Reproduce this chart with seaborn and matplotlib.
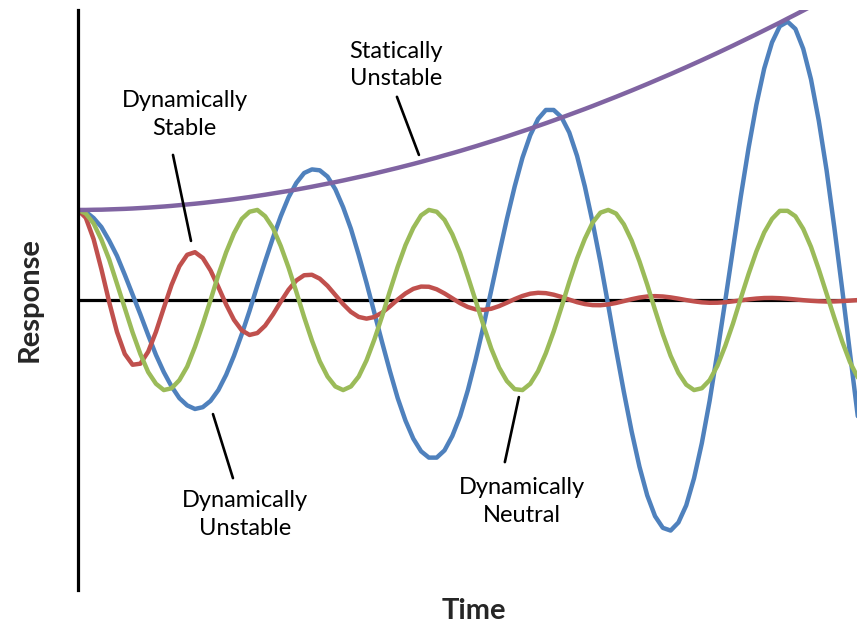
import numpy as np
import pandas as pd
import matplotlib
matplotlib.use("Agg")
import matplotlib.pyplot as plt
import seaborn as sns

#response of four aircraft motions
#time axis in arbitrary units, response relative to the trim line
time = np.linspace(0, 10, 101)

dyn_unstable = [
    1.00, 0.98, 0.91, 0.81, 0.66, 0.49, 0.28, 0.06, -0.16, -0.39,
    -0.61, -0.80, -0.96, -1.09, -1.17, -1.21, -1.19, -1.12, -1.00, -0.83,
    -0.62, -0.38, -0.12, 0.16, 0.43, 0.69, 0.93, 1.14, 1.30, 1.41,
    1.45, 1.44, 1.37, 1.23, 1.03, 0.79, 0.50, 0.19, -0.14, -0.47,
    -0.79, -1.09, -1.34, -1.54, -1.68, -1.75, -1.75, -1.67, -1.51, -1.29,
    -1.00, -0.66, -0.29, 0.11, 0.51, 0.90, 1.26, 1.58, 1.83, 2.01,
    2.11, 2.11, 2.03, 1.86, 1.60, 1.26, 0.86, 0.42, -0.06, -0.55,
    -1.02, -1.46, -1.85, -2.17, -2.40, -2.53, -2.56, -2.47, -2.28, -1.98,
    -1.59, -1.12, -0.58, -0.01, 0.57, 1.15, 1.69, 2.17, 2.57, 2.86,
    3.04, 3.09, 3.01, 2.79, 2.45, 1.99, 1.44, 0.80, 0.12, -0.59,
    -1.29]

dyn_stable = [
    1.000, 0.913, 0.676, 0.342, -0.023, -0.355, -0.599, -0.719, -0.707, -0.574,
    -0.353, -0.089, 0.168, 0.375, 0.502, 0.531, 0.467, 0.328, 0.144, -0.050,
    -0.220, -0.337, -0.388, -0.367, -0.285, -0.161, -0.019, 0.114, 0.217, 0.275,
    0.280, 0.237, 0.157, 0.056, -0.046, -0.132, -0.188, -0.207, -0.189, -0.140,
    -0.071, 0.005, 0.073, 0.124, 0.149, 0.147, 0.119, 0.073, 0.019, -0.035,
    -0.078, -0.104, -0.110, -0.097, -0.068, -0.030, 0.010, 0.045, 0.070, 0.080,
    0.076, 0.059, 0.034, 0.004, -0.024, -0.045, -0.057, -0.058, -0.049, -0.033,
    -0.012, 0.009, 0.027, 0.039, 0.043, 0.039, 0.029, 0.015, -0.001, -0.015,
    -0.026, -0.031, -0.030, -0.025, -0.015, -0.004, 0.007, 0.016, 0.022, 0.023,
    0.020, 0.014, 0.006, -0.002, -0.009, -0.014, -0.017, -0.016, -0.012, -0.007,
    -0.001]

dyn_neutral = [
    1.00, 0.96, 0.85, 0.67, 0.45, 0.18, -0.09, -0.36, -0.60, -0.80,
    -0.93, -1.00, -0.98, -0.89, -0.74, -0.52, -0.27, 0.00, 0.28, 0.53,
    0.74, 0.90, 0.98, 1.00, 0.93, 0.80, 0.60, 0.36, 0.09, -0.19,
    -0.45, -0.68, -0.85, -0.96, -1.00, -0.96, -0.85, -0.67, -0.44, -0.18,
    0.10, 0.37, 0.61, 0.80, 0.94, 1.00, 0.98, 0.89, 0.73, 0.52,
    0.26, -0.01, -0.28, -0.54, -0.75, -0.90, -0.99, -1.00, -0.93, -0.79,
    -0.59, -0.35, -0.08, 0.20, 0.46, 0.68, 0.86, 0.97, 1.00, 0.96,
    0.84, 0.66, 0.43, 0.17, -0.11, -0.38, -0.62, -0.81, -0.94, -1.00,
    -0.98, -0.89, -0.73, -0.51, -0.26, 0.02, 0.29, 0.54, 0.75, 0.90,
    0.99, 0.99, 0.93, 0.79, 0.59, 0.34, 0.07, -0.20, -0.46, -0.69,
    -0.86]

stat_unstable = [
    1.000, 1.000, 1.002, 1.003, 1.006, 1.009, 1.012, 1.016, 1.021, 1.026,
    1.032, 1.038, 1.045, 1.053, 1.061, 1.069, 1.078, 1.088, 1.098, 1.108,
    1.119, 1.131, 1.143, 1.156, 1.169, 1.183, 1.197, 1.211, 1.226, 1.242,
    1.258, 1.275, 1.292, 1.309, 1.327, 1.346, 1.365, 1.384, 1.404, 1.425,
    1.446, 1.467, 1.489, 1.511, 1.534, 1.558, 1.581, 1.606, 1.630, 1.655,
    1.681, 1.707, 1.734, 1.761, 1.788, 1.816, 1.845, 1.874, 1.903, 1.933,
    1.963, 1.994, 2.025, 2.057, 2.089, 2.121, 2.154, 2.188, 2.222, 2.256,
    2.291, 2.326, 2.362, 2.398, 2.435, 2.472, 2.509, 2.547, 2.585, 2.624,
    2.663, 2.703, 2.743, 2.784, 2.825, 2.867, 2.909, 2.951, 2.994, 3.037,
    3.080, 3.125, 3.169, 3.214, 3.260, 3.306, 3.352, 3.399, 3.446, 3.493,
    3.542]

df = pd.DataFrame({
    'Time': time,
    'Dynamically Unstable': dyn_unstable,
    'Dynamically Stable': dyn_stable,
    'Dynamically Neutral': dyn_neutral,
    'Statically Unstable': stat_unstable,
})

#excel 2007 theme colours, drawn in series order
colors = {
    'Dynamically Unstable': '#4F81BD',
    'Dynamically Stable': '#C0504D',
    'Dynamically Neutral': '#9BBB59',
    'Statically Unstable': '#8064A2',
}

sns.set_style("white")
plt.rcParams['font.family'] = ['Lato', 'DejaVu Sans']

fig = plt.figure(figsize=(8.57, 6.26), dpi=100)
ax = fig.add_axes([78 / 857, 36 / 626, 779 / 857, 580 / 626])

#trim line
ax.axhline(0, color='black', lw=2.3, zorder=1)

for name, col in colors.items():
    sns.lineplot(x='Time', y=name, data=df, color=col, lw=3.2, ax=ax, zorder=2,
                 solid_joinstyle='round', solid_capstyle='round')

ax.set_xlim(0, 9.99)
ax.set_ylim(-3.22, 3.22)
ax.set_xticks([])
ax.set_yticks([])
ax.set_xlabel('')
ax.set_ylabel('')
for side in ['top', 'right', 'bottom']:
    ax.spines[side].set_visible(False)
ax.spines['left'].set_color('black')
ax.spines['left'].set_linewidth(2.3)

#labels with leader lines
notes = [
    ('Dynamically\nStable', (1.449, 0.656), (1.218, 1.611), (1.37, 2.06)),
    ('Statically\nUnstable', (4.372, 1.611), (4.09, 2.256), (4.08, 2.61)),
    ('Dynamically\nUnstable', (1.731, -1.267), (1.987, -1.978), (2.14, -2.38)),
    ('Dynamically\nNeutral', (5.654, -1.078), (5.474, -1.80), (5.69, -2.24)),
]
for text, p0, p1, pos in notes:
    ax.plot([p0[0], p1[0]], [p0[1], p1[1]], color='black', lw=1.9, zorder=3)
    ax.text(pos[0], pos[1], text, ha='center', va='center', fontsize=17,
            linespacing=1.4, color='black')

fig.text(30 / 857, 1 - 300 / 626, 'Response', rotation=90, ha='center',
         va='center', fontsize=21, fontweight='bold')
fig.text(474 / 857, 1 - 611 / 626, 'Time', ha='center', va='center',
         fontsize=21, fontweight='bold')

plt.savefig('out.png', dpi=100)
